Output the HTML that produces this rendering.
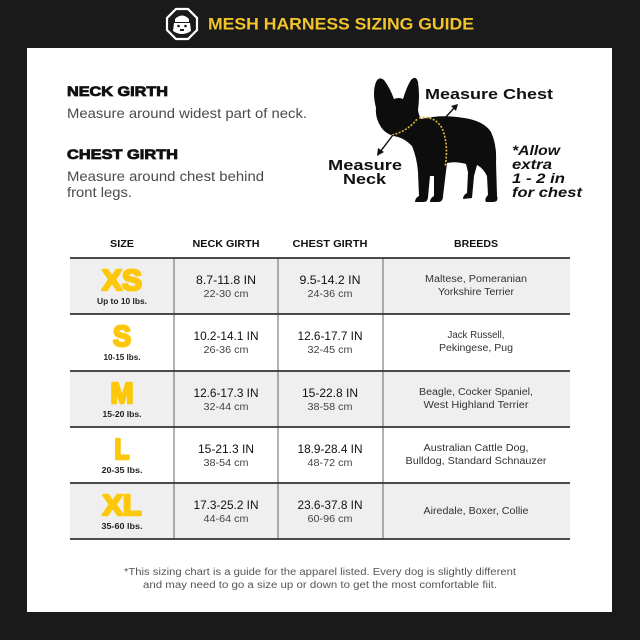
<!DOCTYPE html>
<html><head><meta charset="utf-8"><style>
html,body{margin:0;padding:0;background:#1a1a1a;}
svg{display:block;}
text{font-family:"Liberation Sans",sans-serif;}
</style></head><body>
<svg width="640" height="640" viewBox="0 0 640 640" xmlns="http://www.w3.org/2000/svg">
<rect x="0" y="0" width="640" height="640" fill="#1a1a1a"/>
<!-- header logo -->
<polygon points="176,9 188,9 197,18 197,30 188,39 176,39 167,30 167,18" fill="#1a1a1a" stroke="#fff" stroke-width="2.2"/>
<path d="M175 19 Q182 12 189 19 L189 22 L175 22 Z" fill="#fff"/>
<path d="M174 23 L190 23 L191 31 Q182 37 173 31 Z" fill="#fff"/>
<circle cx="178.5" cy="26" r="1.3" fill="#1a1a1a"/><circle cx="185.5" cy="26" r="1.3" fill="#1a1a1a"/>
<rect x="180" y="29" width="4" height="2" fill="#1a1a1a"/>
<text x="208" y="29.5" font-size="16.5" font-weight="bold" fill="#f3c42a" textLength="266" lengthAdjust="spacingAndGlyphs">MESH HARNESS SIZING GUIDE</text>
<!-- panel -->
<rect x="27" y="48" width="585" height="564" fill="#fff"/>
<!-- left text -->
<text x="67" y="96" font-size="14" font-weight="bold" fill="#111" stroke="#111" stroke-width="0.8" textLength="101" lengthAdjust="spacingAndGlyphs">NECK GIRTH</text>
<text x="67" y="118" font-size="14" fill="#4a4a4a" textLength="240" lengthAdjust="spacingAndGlyphs">Measure around widest part of neck.</text>
<text x="67" y="159" font-size="14" font-weight="bold" fill="#111" stroke="#111" stroke-width="0.8" textLength="111" lengthAdjust="spacingAndGlyphs">CHEST GIRTH</text>
<text x="67" y="181" font-size="14" fill="#4a4a4a" textLength="197" lengthAdjust="spacingAndGlyphs">Measure around chest behind</text>
<text x="67" y="197" font-size="14" fill="#4a4a4a" textLength="65" lengthAdjust="spacingAndGlyphs">front legs.</text>
<!-- dog -->
<path d="M376 108 Q372 92 376 82 Q379 76 384 80 Q390 88 394 99 Q399 97 403 99 Q407 86 411 80 Q416 75 418 82 Q420 96 418 110 Q419 116 421 119 Q442 114 464 118 Q484 121 491 132 Q497 145 496 162 L497 196 Q499 202 493 202 L486 202 Q484 199 488 195 L487 176 Q483 168 477 165 L474 176 L472 198 L463 199 Q463 195 467 193 L468 172 L466 164 Q456 161 447 163 L443 196 Q443 202 438 202 L430 202 Q430 198 434 196 L434 176 L430 176 L428 197 Q428 202 423 202 L415 202 Q415 198 419 196 L418 172 Q417 158 412 146 Q405 139 398 137 Q386 135 381 127 Q375 118 376 108 Z" fill="#0d0d0d"/>
<path d="M392 135 Q408 131 417 119" fill="none" stroke="#e3b83a" stroke-width="1.6" stroke-dasharray="2 1.5"/>
<path d="M419 118 Q434 115 442 128 Q449 145 445 167" fill="none" stroke="#e3b83a" stroke-width="1.6" stroke-dasharray="2 1.5"/>
<line x1="444" y1="119" x2="455" y2="107" stroke="#111" stroke-width="1.4"/>
<polygon points="458,104 451,106 456,111" fill="#111"/>
<line x1="393" y1="135" x2="380" y2="152" stroke="#111" stroke-width="1.4"/>
<polygon points="377,156 378,148 384,152" fill="#111"/>
<text x="425" y="99" font-size="15" font-weight="bold" fill="#111" textLength="128" lengthAdjust="spacingAndGlyphs">Measure Chest</text>
<text x="328" y="170" font-size="15" font-weight="bold" fill="#111" textLength="74" lengthAdjust="spacingAndGlyphs">Measure</text>
<text x="343" y="184" font-size="15" font-weight="bold" fill="#111" textLength="43" lengthAdjust="spacingAndGlyphs">Neck</text>
<g font-size="14" font-weight="bold" font-style="italic" fill="#111">
<text x="512" y="155" textLength="48" lengthAdjust="spacingAndGlyphs">*Allow</text>
<text x="512" y="169" textLength="40" lengthAdjust="spacingAndGlyphs">extra</text>
<text x="512" y="183" textLength="53" lengthAdjust="spacingAndGlyphs">1 - 2 in</text>
<text x="512" y="197" textLength="70" lengthAdjust="spacingAndGlyphs">for chest</text>
</g>
<!-- table -->
<g font-size="10" font-weight="bold" fill="#111" text-anchor="middle">
<text x="122" y="247" textLength="24" lengthAdjust="spacingAndGlyphs">SIZE</text>
<text x="226" y="247" textLength="67" lengthAdjust="spacingAndGlyphs">NECK GIRTH</text>
<text x="330" y="247" textLength="75" lengthAdjust="spacingAndGlyphs">CHEST GIRTH</text>
<text x="476" y="247" textLength="44" lengthAdjust="spacingAndGlyphs">BREEDS</text>
</g>
<rect x="70" y="258" width="500" height="56" fill="#efefef"/>
<rect x="70" y="371" width="500" height="56" fill="#efefef"/>
<rect x="70" y="483" width="500" height="56" fill="#efefef"/>
<g stroke="#666" stroke-width="1">
<line x1="174" y1="258" x2="174" y2="539"/>
<line x1="278" y1="258" x2="278" y2="539"/>
<line x1="383" y1="258" x2="383" y2="539"/>
</g>
<g stroke="#333" stroke-width="1.8">
<line x1="70" y1="258" x2="570" y2="258"/>
<line x1="70" y1="314" x2="570" y2="314"/>
<line x1="70" y1="371" x2="570" y2="371"/>
<line x1="70" y1="427" x2="570" y2="427"/>
<line x1="70" y1="483" x2="570" y2="483"/>
<line x1="70" y1="539" x2="570" y2="539"/>
</g>
<!-- size letters -->
<g font-size="29" font-weight="bold" fill="#fdc80c" stroke="#fdc80c" stroke-width="2.5" stroke-linejoin="round" text-anchor="middle">
<text x="122" y="290" textLength="40" lengthAdjust="spacingAndGlyphs">XS</text>
<text x="122" y="346" textLength="18" lengthAdjust="spacingAndGlyphs">S</text>
<text x="122" y="403" textLength="23" lengthAdjust="spacingAndGlyphs">M</text>
<text x="122" y="459" textLength="15" lengthAdjust="spacingAndGlyphs">L</text>
<text x="122" y="515" textLength="39" lengthAdjust="spacingAndGlyphs">XL</text>
</g>
<g font-size="8" font-weight="bold" fill="#222" text-anchor="middle">
<text x="122" y="304" textLength="50" lengthAdjust="spacingAndGlyphs">Up to 10 lbs.</text>
<text x="122" y="360" textLength="37" lengthAdjust="spacingAndGlyphs">10-15 lbs.</text>
<text x="122" y="417" textLength="39" lengthAdjust="spacingAndGlyphs">15-20 lbs.</text>
<text x="122" y="473" textLength="41" lengthAdjust="spacingAndGlyphs">20-35 lbs.</text>
<text x="122" y="529" textLength="41" lengthAdjust="spacingAndGlyphs">35-60 lbs.</text>
</g>
<!-- measurements -->
<g font-size="12" fill="#111" text-anchor="middle">
<text x="226" y="284" textLength="60" lengthAdjust="spacingAndGlyphs">8.7-11.8 IN</text>
<text x="226" y="340" textLength="65" lengthAdjust="spacingAndGlyphs">10.2-14.1 IN</text>
<text x="226" y="397" textLength="65" lengthAdjust="spacingAndGlyphs">12.6-17.3 IN</text>
<text x="226" y="453" textLength="56" lengthAdjust="spacingAndGlyphs">15-21.3 IN</text>
<text x="226" y="509" textLength="65" lengthAdjust="spacingAndGlyphs">17.3-25.2 IN</text>
<text x="330" y="284" textLength="61" lengthAdjust="spacingAndGlyphs">9.5-14.2 IN</text>
<text x="330" y="340" textLength="65" lengthAdjust="spacingAndGlyphs">12.6-17.7 IN</text>
<text x="330" y="397" textLength="56" lengthAdjust="spacingAndGlyphs">15-22.8 IN</text>
<text x="330" y="453" textLength="65" lengthAdjust="spacingAndGlyphs">18.9-28.4 IN</text>
<text x="330" y="509" textLength="65" lengthAdjust="spacingAndGlyphs">23.6-37.8 IN</text>
</g>
<g font-size="10" fill="#444" text-anchor="middle">
<text x="226" y="297" textLength="45" lengthAdjust="spacingAndGlyphs">22-30 cm</text>
<text x="226" y="353" textLength="45" lengthAdjust="spacingAndGlyphs">26-36 cm</text>
<text x="226" y="410" textLength="45" lengthAdjust="spacingAndGlyphs">32-44 cm</text>
<text x="226" y="466" textLength="45" lengthAdjust="spacingAndGlyphs">38-54 cm</text>
<text x="226" y="522" textLength="45" lengthAdjust="spacingAndGlyphs">44-64 cm</text>
<text x="330" y="297" textLength="45" lengthAdjust="spacingAndGlyphs">24-36 cm</text>
<text x="330" y="353" textLength="45" lengthAdjust="spacingAndGlyphs">32-45 cm</text>
<text x="330" y="410" textLength="45" lengthAdjust="spacingAndGlyphs">38-58 cm</text>
<text x="330" y="466" textLength="45" lengthAdjust="spacingAndGlyphs">48-72 cm</text>
<text x="330" y="522" textLength="45" lengthAdjust="spacingAndGlyphs">60-96 cm</text>
</g>
<g font-size="10" fill="#333" text-anchor="middle">
<text x="476" y="282" textLength="102" lengthAdjust="spacingAndGlyphs">Maltese, Pomeranian</text>
<text x="476" y="295" textLength="76" lengthAdjust="spacingAndGlyphs">Yorkshire Terrier</text>
<text x="476" y="338" textLength="57" lengthAdjust="spacingAndGlyphs">Jack Russell,</text>
<text x="476" y="351" textLength="74" lengthAdjust="spacingAndGlyphs">Pekingese, Pug</text>
<text x="476" y="395" textLength="114" lengthAdjust="spacingAndGlyphs">Beagle, Cocker Spaniel,</text>
<text x="476" y="408" textLength="105" lengthAdjust="spacingAndGlyphs">West Highland Terrier</text>
<text x="476" y="451" textLength="105" lengthAdjust="spacingAndGlyphs">Australian Cattle Dog,</text>
<text x="476" y="464" textLength="141" lengthAdjust="spacingAndGlyphs">Bulldog, Standard Schnauzer</text>
<text x="476" y="514" textLength="105" lengthAdjust="spacingAndGlyphs">Airedale, Boxer, Collie</text>
</g>
<!-- footer -->
<g font-size="10" fill="#555" text-anchor="middle">
<text x="320" y="575" textLength="392" lengthAdjust="spacingAndGlyphs">*This sizing chart is a guide for the apparel listed. Every dog is slightly different</text>
<text x="320" y="588" textLength="354" lengthAdjust="spacingAndGlyphs">and may need to go a size up or down to get the most comfortable fiit.</text>
</g>
</svg>
</body></html>
